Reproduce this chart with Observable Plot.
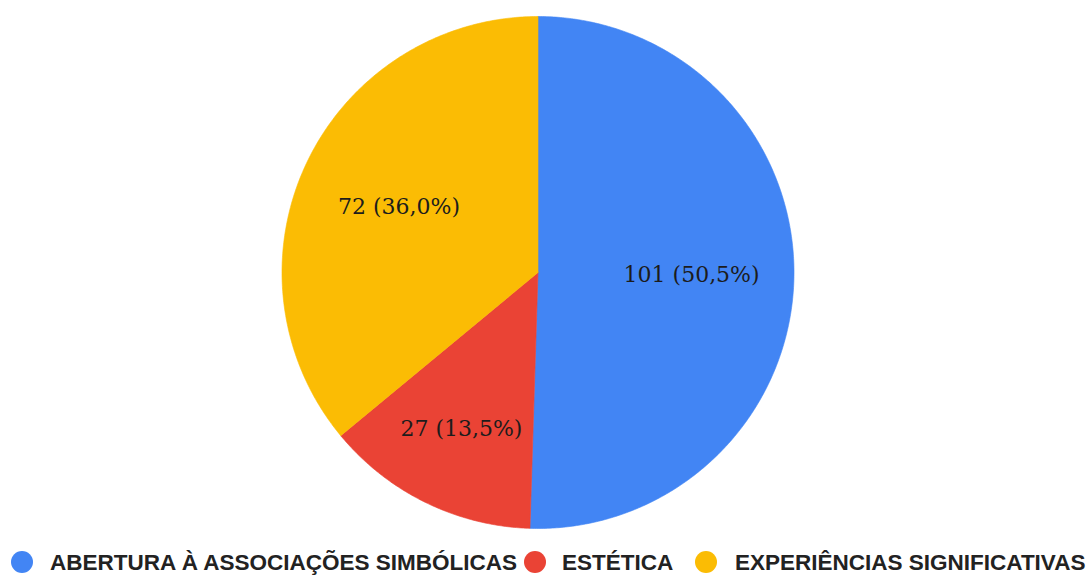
<!DOCTYPE html>
<html><head><meta charset="utf-8">
<script src="https://cdn.jsdelivr.net/npm/d3@7"></script>
<script src="https://cdn.jsdelivr.net/npm/@observablehq/plot@0.6"></script>
<style>
body{margin:0;background:#fff;overflow:hidden}
#legend{position:relative;height:27px;width:1091px;font-family:"Liberation Sans",Arial,sans-serif;font-weight:bold;font-size:22.5px;color:#222}
.sw{position:absolute;border-radius:50%;width:22px;height:22px}
.lb{position:absolute;white-space:nowrap;line-height:1}
</style></head><body>
<div id="chart"></div><div id="legend"></div>
<script>
// data
const categories = ["ABERTURA À ASSOCIAÇÕES SIMBÓLICAS", "ESTÉTICA", "EXPERIÊNCIAS SIGNIFICATIVAS"];
const counts = [101, 27, 72];
const colors = ["#4285F4", "#EA4335", "#FBBC04"];

// layout
const W = 1091, H = 548, R = 256, CX = 537.5, CY = 272;
const legendSwatchX = [21.5, 535, 706];
const legendTextX = [50, 562, 735];

const total = d3.sum(counts);
const arcs = d3.pie().sort(null).value(d => d)(counts);
const pts = [];
const labels = [];
arcs.forEach((a, i) => {
  const cat = categories[i];
  const n = Math.max(2, Math.ceil((a.endAngle - a.startAngle) / (2 * Math.PI) * 720));
  pts.push({cat, x: 0, y: 0});
  for (let k = 0; k <= n; k++) {
    const t = a.startAngle + (a.endAngle - a.startAngle) * k / n;
    pts.push({cat, x: Math.sin(t), y: Math.cos(t)});
  }
  pts.push({cat, x: 0, y: 0});
  const frac = counts[i] / total;
  const m = (a.startAngle + a.endAngle) / 2;
  const lr = frac >= 0.3 ? 0.6 : 0.68;
  labels.push({
    x: lr * Math.sin(m), y: lr * Math.cos(m),
    text: `${counts[i]} (${(frac * 100).toFixed(1).replace(".", ",")}%)`
  });
});

const chart = Plot.plot({
  width: W, height: H,
  marginLeft: CX - R, marginRight: W - CX - R,
  marginTop: CY - R, marginBottom: H - CY - R,
  x: {domain: [-1, 1], axis: null},
  y: {domain: [-1, 1], axis: null},
  color: {domain: categories, range: colors},
  marks: [
    Plot.line(pts, {x: "x", y: "y", z: "cat", fill: "cat", stroke: "cat", strokeWidth: 0.6}),
    Plot.text(labels, {x: "x", y: "y", text: "text", fontSize: 22, fontFamily: "DejaVu Serif, serif", fill: "#1c1c1c"})
  ]
});
document.getElementById("chart").appendChild(chart);

const legend = document.getElementById("legend");
categories.forEach((c, i) => {
  const s = document.createElement("span");
  s.className = "sw";
  s.style.left = (legendSwatchX[i] - 11) + "px";
  s.style.top = "3px";
  s.style.background = colors[i];
  legend.appendChild(s);
  const t = document.createElement("span");
  t.className = "lb";
  t.style.left = legendTextX[i] + "px";
  t.style.top = "4px";
  t.textContent = c;
  legend.appendChild(t);
});
</script>
</body></html>
